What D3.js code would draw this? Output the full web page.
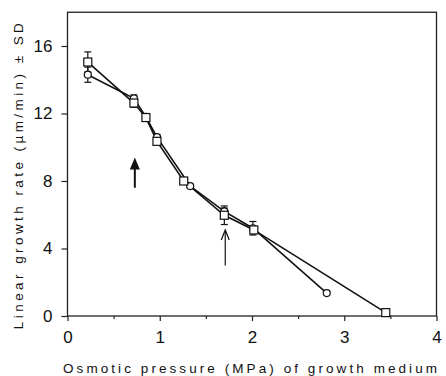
<!DOCTYPE html>
<meta charset="utf-8">
<script src="https://d3js.org/d3.v7.min.js"></script>
<style>
  body { margin: 0; background: #fff; }
  text { font-family: "Liberation Sans", Arial, sans-serif; fill: #111; }
</style>
<div id="chart"></div>
<script>

    // squares series
    var osmSq = [0.22, 0.72, 0.85, 0.97, 1.26, 1.70, 2.02, 3.45];
    var rateSq = [15.05, 12.62, 11.76, 10.35, 8.0, 5.97, 5.1, 0.2];
    var sdSq = [0.6, 0.25, 0.12, 0.15, 0.1, 0.55, 0.15, 0.1];

    // circles series
    var osmCi = [0.22, 0.72, 0.85, 0.97, 1.33, 1.70, 2.01, 2.81];
    var rateCi = [14.3, 12.9, 11.8, 10.6, 7.7, 6.2, 5.2, 1.36];
    var sdCi = [0.45, 0.2, 0.1, 0.15, 0.1, 0.2, 0.4, 0.1];

    // arrows (x, from y, to y)
    var arrowX = [0.73, 1.71];
    var arrowFrom = [7.6, 3.0];
    var arrowTo = [9.4, 5.1];

    var xTicks = [0, 1, 2, 3, 4];
    var xMinor = [0.5, 1.5, 2.5, 3.5];
    var yTicks = [0, 4, 8, 12, 16];

    var margin = { top: 12, right: 10, bottom: 60, left: 67.5 },
        width = 446 - margin.left - margin.right,
        height = 376 - margin.top - margin.bottom;

    var svg = d3.select("#chart")
        .append("svg")
        .attr("width", 446)
        .attr("height", 376)
        .append("g")
        .attr("transform", "translate(" + margin.left + "," + margin.top + ")");

    var x = d3.scaleLinear().domain([0, 4]).range([0, 369]);
    var y = d3.scaleLinear().domain([0, 18]).range([height, height - 18 * 16.875]);

    // frame
    svg.append("rect")
        .attr("x", 0).attr("y", y(18))
        .attr("width", x(4)).attr("height", y(0) - y(18))
        .attr("fill", "none")
        .attr("stroke", "#222")
        .attr("stroke-width", 1.3);

    // x axis
    var xAxis = svg.append("g")
        .attr("transform", "translate(0," + y(0) + ")")
        .call(d3.axisBottom(x).tickValues(xTicks).tickSize(5).tickPadding(10).tickFormat(d3.format("d")));
    xAxis.select(".domain").remove();
    xAxis.selectAll("text").attr("font-size", 17).attr("font-family", "Liberation Sans, Arial, sans-serif");
    xAxis.selectAll("line").attr("stroke", "#222").attr("stroke-width", 1.2);

    svg.append("g")
        .attr("transform", "translate(0," + y(0) + ")")
        .call(d3.axisBottom(x).tickValues(xMinor).tickSize(3).tickFormat(""))
        .call(function (g) { g.select(".domain").remove(); })
        .selectAll("line").attr("stroke", "#222").attr("stroke-width", 1.2);

    // y axis
    var yAxis = svg.append("g")
        .call(d3.axisLeft(y).tickValues(yTicks).tickSize(6).tickPadding(9));
    yAxis.select(".domain").remove();
    yAxis.selectAll("text").attr("font-size", 17).attr("font-family", "Liberation Sans, Arial, sans-serif");
    yAxis.selectAll("line").attr("stroke", "#222").attr("stroke-width", 1.2);

    // axis titles
    svg.append("text")
        .attr("x", x(2) - 2)
        .attr("y", height + 57)
        .attr("text-anchor", "middle")
        .attr("font-size", 13.5)
        .attr("textLength", 374)
        .attr("lengthAdjust", "spacing")
        .text("Osmotic pressure (MPa) of growth medium");

    svg.append("text")
        .attr("transform", "translate(" + (-45) + "," + (y(9) + 12) + ") rotate(-90)")
        .attr("text-anchor", "middle")
        .attr("font-size", 13.5)
        .attr("textLength", 306)
        .attr("lengthAdjust", "spacing")
        .text("Linear growth rate (\u00b5m/min) \u00b1 SD");

    var sq = osmSq.map(function (d, i) { return { x: d, y: rateSq[i], sd: sdSq[i] }; });
    var ci = osmCi.map(function (d, i) { return { x: d, y: rateCi[i], sd: sdCi[i] }; });

    var line = d3.line()
        .x(function (d) { return x(d.x); })
        .y(function (d) { return y(d.y); });

    [sq, ci].forEach(function (data) {
        svg.append("path")
            .datum(data)
            .attr("fill", "none")
            .attr("stroke", "#111")
            .attr("stroke-width", 1.6)
            .attr("d", line);

        var eb = svg.append("g").selectAll("g")
            .data(data)
            .enter()
            .append("g")
            .attr("stroke", "#111")
            .attr("stroke-width", 1.2);
        eb.append("line")
            .attr("x1", function (d) { return x(d.x); })
            .attr("x2", function (d) { return x(d.x); })
            .attr("y1", function (d) { return y(d.y - d.sd); })
            .attr("y2", function (d) { return y(d.y + d.sd); });
        eb.append("line")
            .attr("x1", function (d) { return x(d.x) - 3.5; })
            .attr("x2", function (d) { return x(d.x) + 3.5; })
            .attr("y1", function (d) { return y(d.y + d.sd); })
            .attr("y2", function (d) { return y(d.y + d.sd); });
        eb.append("line")
            .attr("x1", function (d) { return x(d.x) - 3.5; })
            .attr("x2", function (d) { return x(d.x) + 3.5; })
            .attr("y1", function (d) { return y(d.y - d.sd); })
            .attr("y2", function (d) { return y(d.y - d.sd); });
    });

    svg.selectAll("circle.pt")
        .data(ci)
        .enter()
        .append("circle")
        .attr("class", "pt")
        .attr("cx", function (d) { return x(d.x); })
        .attr("cy", function (d) { return y(d.y); })
        .attr("r", 3.5)
        .attr("fill", "white")
        .attr("stroke", "#111")
        .attr("stroke-width", 1.2);

    svg.selectAll("rect.pt")
        .data(sq)
        .enter()
        .append("rect")
        .attr("class", "pt")
        .attr("x", function (d) { return x(d.x) - 4; })
        .attr("y", function (d) { return y(d.y) - 4; })
        .attr("width", 8)
        .attr("height", 8)
        .attr("fill", "white")
        .attr("stroke", "#111")
        .attr("stroke-width", 1.2);

    // arrows
    arrowX.forEach(function (ax, i) {
        var bold = i === 0;
        var x0 = x(ax), yb = y(arrowFrom[i]), yt = y(arrowTo[i]);
        var hw = bold ? 5 : 4, hl = bold ? 12 : 10;
        svg.append("line")
            .attr("x1", x0).attr("x2", x0)
            .attr("y1", yb).attr("y2", yt + (bold ? hl - 2 : 2))
            .attr("stroke", "#111")
            .attr("stroke-width", bold ? 2 : 1.2);
        if (bold) {
            svg.append("path")
                .attr("d", "M" + x0 + "," + yt + "L" + (x0 + hw) + "," + (yt + hl) + "L" + (x0 - hw) + "," + (yt + hl) + "Z")
                .attr("fill", "#111");
        } else {
            svg.append("path")
                .attr("d", "M" + (x0 - hw) + "," + (yt + hl) + "L" + x0 + "," + yt + "L" + (x0 + hw) + "," + (yt + hl))
                .attr("fill", "none")
                .attr("stroke", "#111")
                .attr("stroke-width", 1.2);
        }
    });

</script>
